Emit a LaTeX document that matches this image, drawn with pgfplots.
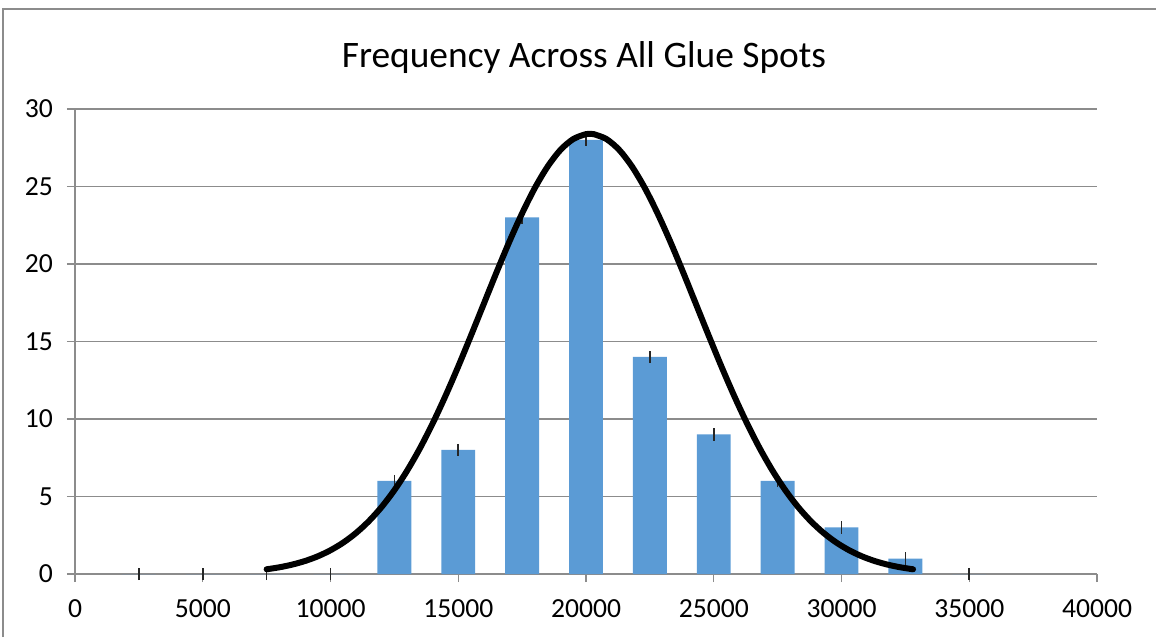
\documentclass[border=0pt]{standalone}
\usepackage{fontspec}
\setmainfont{Carlito}
\usepackage{pgfplots}
\pgfplotsset{compat=1.18}
\definecolor{barblue}{HTML}{5B9BD5}
\definecolor{axgrey}{HTML}{8C8C8C}
\begin{document}
\begin{tikzpicture}[x=1pt,y=1pt]
\useasboundingbox (0,0) rectangle (578,318.5);
\draw[axgrey, line width=0.6pt] (1.5,0) -- (1.5,314) -- (578,314);
\node[anchor=base, font=\fontsize{18.7}{22}\selectfont] at (292,284.5) {Frequency Across All Glue Spots};
\begin{axis}[
    at={(37.5pt,31.5pt)}, anchor=south west,
    scale only axis, width=511pt, height=232.5pt,
    xmin=0, xmax=40000, ymin=0, ymax=30,
    axis x line=bottom, axis y line=left,
    axis line style={axgrey, line width=0.6pt, -},
    xtick={0,5000,...,40000},
    xticklabels={0,5000,10000,15000,20000,25000,30000,35000,40000},
    scaled x ticks=false,
    ytick={0,5,...,30},
    ymajorgrids, grid style={axgrey, line width=0.6pt},
    tick align=outside, major tick length=4pt,
    tick style={axgrey, line width=0.6pt},
    ticklabel style={font=\fontsize{13.8}{15}\selectfont, text=black},
    xticklabel style={yshift=-5.5pt},
    yticklabel style={xshift=-3.5pt},
    /pgf/number format/assume math mode=true,
    clip=false,
]
\addplot[ybar, bar width=1330, fill=barblue, draw=none,
    error bars/.cd, y dir=both, y fixed=0.4, error mark=none,
    error bar style={line width=0.8pt, black!85}]
    coordinates {(2500,0) (5000,0) (7500,0) (10000,0) (12500,6) (15000,8)
    (17500,23) (20000,28) (22500,14) (25000,9) (27500,6) (30000,3)
    (32500,1) (35000,0)};
\addplot[black, line width=3pt, smooth, line cap=round] coordinates {
(7500,0.304) (8000,0.433) (8500,0.606) (9000,0.837) (9500,1.140)
(10000,1.532) (10500,2.027) (11000,2.647) (11500,3.406) (12000,4.322)
(12500,5.408) (13000,6.669) (13500,8.108) (14000,9.722) (14500,11.49)
(15000,13.39) (15500,15.39) (16000,17.43) (16500,19.47) (17000,21.44)
(17500,23.27) (18000,24.91) (18500,26.29) (19000,27.36) (19500,28.06)
(20000,28.38) (20150,28.40) (20300,28.38) (20800,28.06) (21300,27.36)
(21800,26.29) (22300,24.91) (22800,23.27) (23300,21.44) (23800,19.47)
(24300,17.43) (24800,15.39) (25300,13.39) (25800,11.49) (26300,9.722)
(26800,8.108) (27300,6.669) (27800,5.408) (28300,4.322) (28800,3.406)
(29300,2.647) (29800,2.027) (30300,1.532) (30800,1.140) (31300,0.837)
(31800,0.606) (32300,0.433) (32800,0.304)};
\end{axis}
\end{tikzpicture}
\end{document}
